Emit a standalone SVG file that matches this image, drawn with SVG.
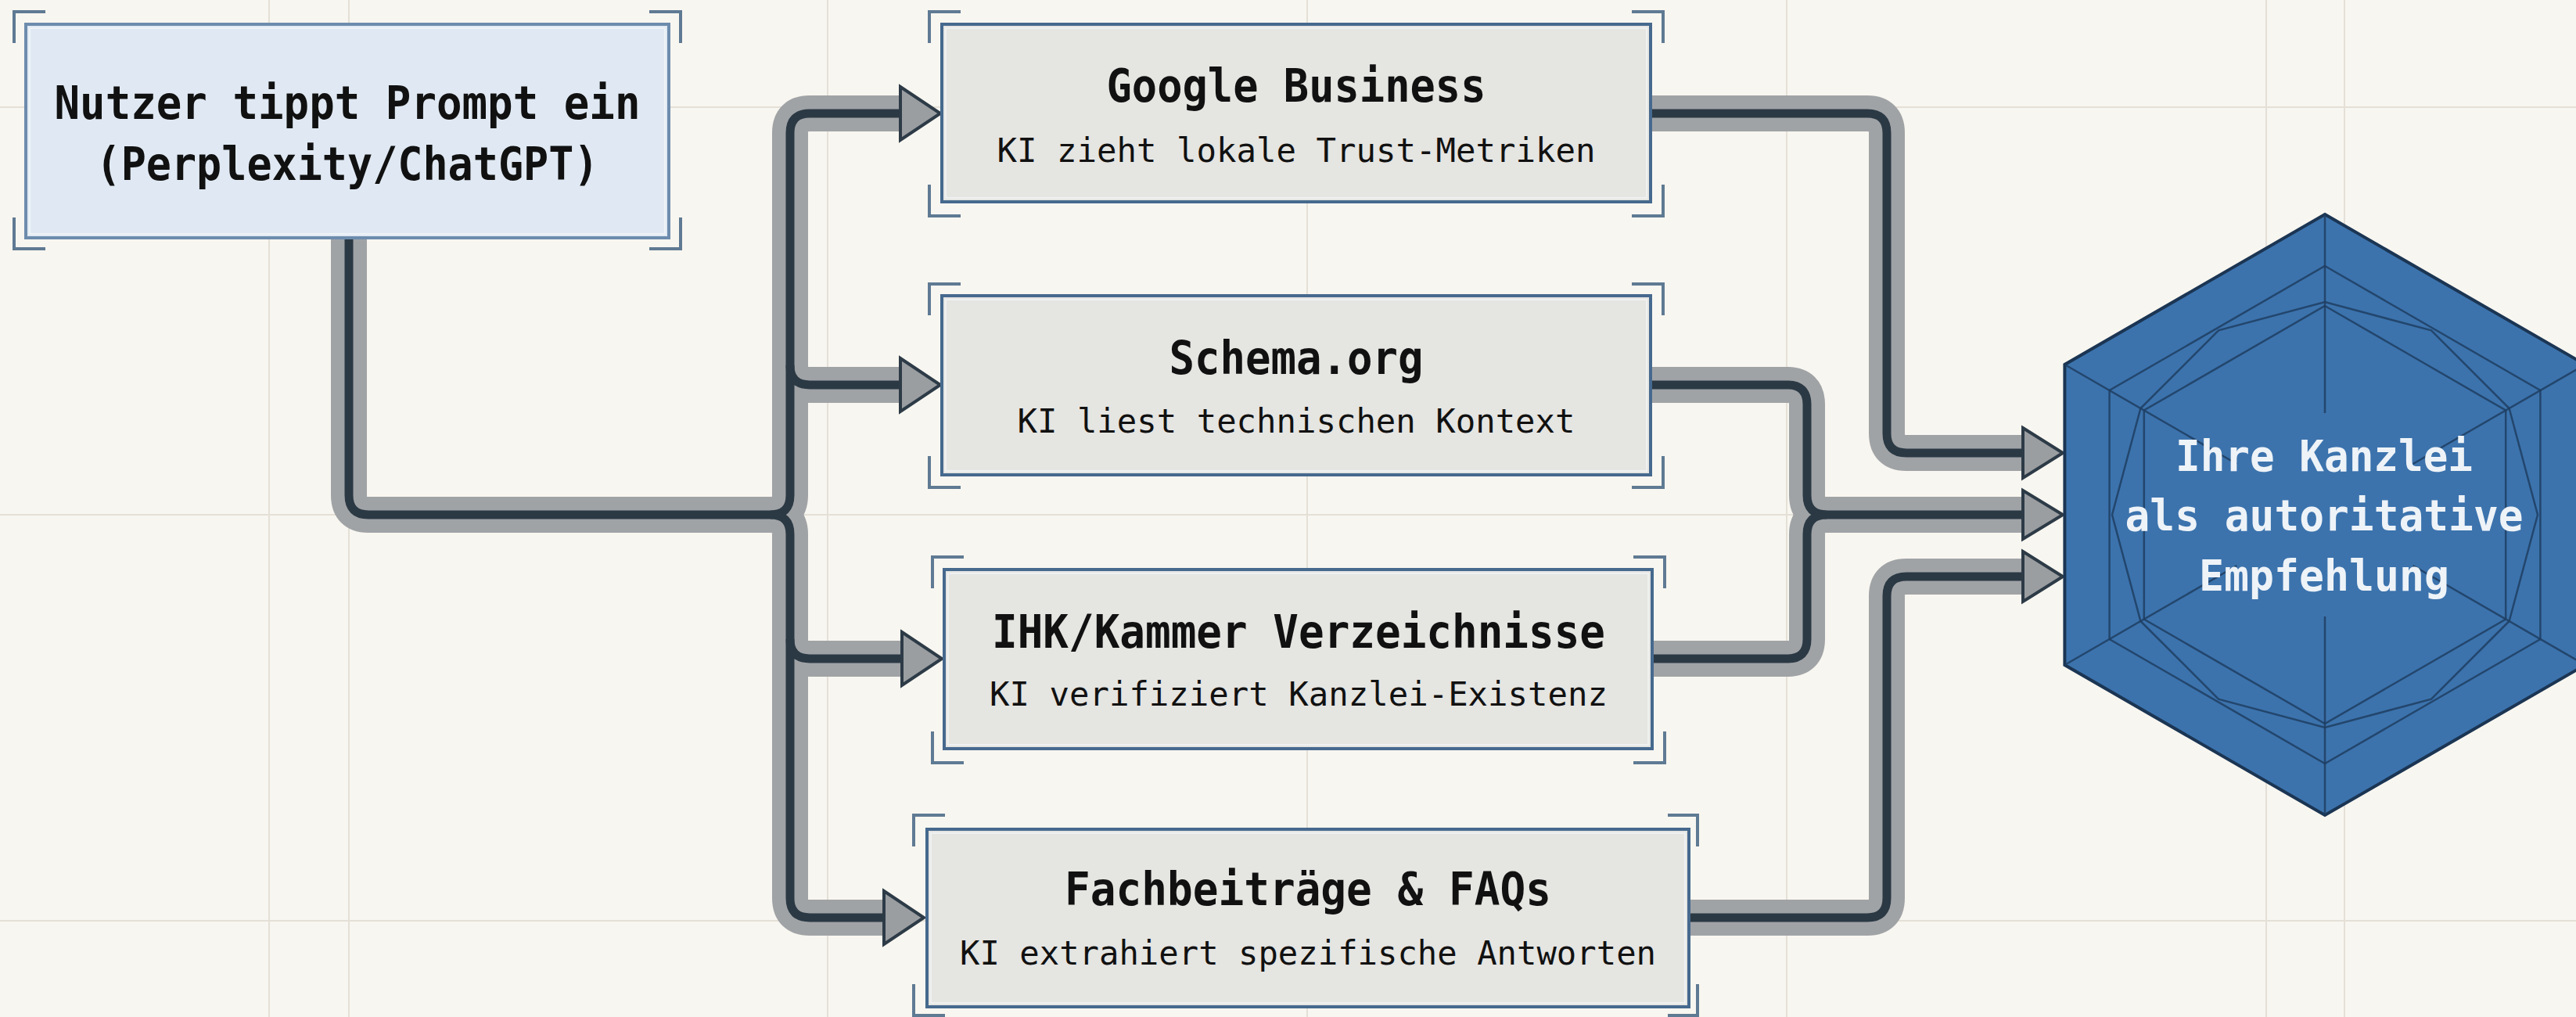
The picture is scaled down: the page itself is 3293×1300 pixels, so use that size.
<svg xmlns="http://www.w3.org/2000/svg" width="3293" height="1300" viewBox="0 0 3293 1300">
<style>
.grid{stroke:#e4e0d7;stroke-width:2;fill:none}
.box{fill:#e5e5e2;stroke:#46698e;stroke-width:4}
.box1{fill:#e0e9f3;stroke:#6d8cad;stroke-width:4}
.inner{fill:none;stroke:#f4f6f8;stroke-width:2;opacity:0.7}
.br{fill:none;stroke:#5f7a93;stroke-width:4}
.band{fill:none;stroke:#a0a3a6;stroke-width:46;stroke-linejoin:round}
.core{fill:none;stroke:#2b3944;stroke-width:11;stroke-linejoin:round}
.arr{fill:#9b9ea1;stroke:#2d3b47;stroke-width:4;stroke-linejoin:miter}
.t{font-family:"DejaVu Sans Mono","Liberation Mono",monospace;font-weight:bold;font-size:58px;fill:#111;text-anchor:middle}
.s{font-family:"DejaVu Sans Mono","Liberation Mono",monospace;font-size:42px;fill:#111;text-anchor:middle}
.h{font-family:"DejaVu Sans Mono","Liberation Mono",monospace;font-weight:bold;font-size:56px;fill:#eef3f8;text-anchor:middle}
.hl{fill:none;stroke:#1f3e62;stroke-width:2.5;opacity:0.85}
</style>
<rect x="0" y="0" width="3293" height="1300" fill="#f8f6f0"/>
<g id="grid">
<line class="grid" x1="344" y1="0" x2="344" y2="1300"/>
<line class="grid" x1="446" y1="0" x2="446" y2="1300"/>
<line class="grid" x1="1058" y1="0" x2="1058" y2="1300"/>
<line class="grid" x1="1671" y1="0" x2="1671" y2="1300"/>
<line class="grid" x1="2284" y1="0" x2="2284" y2="1300"/>
<line class="grid" x1="2897" y1="0" x2="2897" y2="1300"/>
<line class="grid" x1="2997" y1="0" x2="2997" y2="1300"/>
<line class="grid" x1="0" y1="137" x2="3293" y2="137"/>
<line class="grid" x1="0" y1="658" x2="3293" y2="658"/>
<line class="grid" x1="0" y1="1177" x2="3293" y2="1177"/>
</g>
<g id="connectors">
<g>
<path class="band" d="M446,304 V633 Q446,658 471,658 H985 Q1010,658 1010,633 V170 Q1010,145 1035,145 H1155"/>
<path class="band" d="M985,658 Q1010,658 1010,683 V1148 Q1010,1173 1035,1173 H1132"/>
<path class="band" d="M1010,467 Q1010,492 1035,492 H1155"/>
<path class="band" d="M1010,817 Q1010,842 1035,842 H1155"/>
<path class="band" d="M2110,145 H2387 Q2412,145 2412,170 V554 Q2412,579 2437,579 H2588"/>
<path class="band" d="M2110,492 H2285 Q2310,492 2310,517 V633 Q2310,658 2335,658 H2588"/>
<path class="band" d="M2110,842 H2285 Q2310,842 2310,817 V683 Q2310,658 2335,658"/>
<path class="band" d="M2159,1173 H2387 Q2412,1173 2412,1148 V762 Q2412,737 2437,737 H2588"/>
</g>
<g>
<path class="core" d="M446,304 V633 Q446,658 471,658 H985 Q1010,658 1010,633 V170 Q1010,145 1035,145 H1155"/>
<path class="core" d="M985,658 Q1010,658 1010,683 V1148 Q1010,1173 1035,1173 H1132"/>
<path class="core" d="M1010,467 Q1010,492 1035,492 H1155"/>
<path class="core" d="M1010,817 Q1010,842 1035,842 H1155"/>
<path class="core" d="M2110,145 H2387 Q2412,145 2412,170 V554 Q2412,579 2437,579 H2588"/>
<path class="core" d="M2110,492 H2285 Q2310,492 2310,517 V633 Q2310,658 2335,658 H2588"/>
<path class="core" d="M2110,842 H2285 Q2310,842 2310,817 V683 Q2310,658 2335,658"/>
<path class="core" d="M2159,1173 H2387 Q2412,1173 2412,1148 V762 Q2412,737 2437,737 H2588"/>
</g>
<polygon class="arr" points="1151,111 1202,145 1151,179"/>
<polygon class="arr" points="1151,458 1202,492 1151,526"/>
<polygon class="arr" points="1153,808 1204,842 1153,876"/>
<polygon class="arr" points="1130,1139 1181,1173 1130,1207"/>
<polygon class="arr" points="2586,547 2637,579 2586,611"/>
<polygon class="arr" points="2586,627 2637,658 2586,689"/>
<polygon class="arr" points="2586,705 2637,737 2586,769"/>
</g>
<g id="node-prompt">
<rect class="box1" x="33" y="31" width="822" height="273"/>
<rect class="inner" x="38" y="36" width="812" height="263"/>
<path class="br" d="M18,55 V15 H58 M830,15 H870 V55 M870,278 V318 H830 M58,318 H18 V278"/>
<text class="t" x="444" y="152" font-size="60" textLength="749" lengthAdjust="spacingAndGlyphs">Nutzer tippt Prompt ein</text>
<text class="t" x="444" y="230" font-size="60" textLength="643" lengthAdjust="spacingAndGlyphs">(Perplexity/ChatGPT)</text>
</g>
<g id="node-google">
<rect class="box" x="1204" y="31" width="906" height="227"/>
<rect class="inner" x="1209" y="36" width="896" height="217"/>
<path class="br" d="M1188,55 V15 H1228 M2086,15 H2126 V55 M2126,236 V276 H2086 M1228,276 H1188 V236"/>
<text class="t" x="1657" y="130" textLength="485" lengthAdjust="spacingAndGlyphs">Google Business</text>
<text class="s" x="1657" y="207" textLength="765" lengthAdjust="spacingAndGlyphs">KI zieht lokale Trust-Metriken</text>
</g>
<g id="node-schema">
<rect class="box" x="1204" y="378" width="906" height="229"/>
<rect class="inner" x="1209" y="383" width="896" height="219"/>
<path class="br" d="M1188,403 V363 H1228 M2086,363 H2126 V403 M2126,583 V623 H2086 M1228,623 H1188 V583"/>
<text class="t" x="1657" y="478" textLength="325" lengthAdjust="spacingAndGlyphs">Schema.org</text>
<text class="s" x="1657" y="553" textLength="713" lengthAdjust="spacingAndGlyphs">KI liest technischen Kontext</text>
</g>
<g id="node-ihk">
<rect class="box" x="1207" y="728" width="905" height="229"/>
<rect class="inner" x="1212" y="733" width="895" height="219"/>
<path class="br" d="M1192,752 V712 H1232 M2088,712 H2128 V752 M2128,935 V975 H2088 M1232,975 H1192 V935"/>
<text class="t" x="1660" y="828" textLength="784" lengthAdjust="spacingAndGlyphs">IHK/Kammer Verzeichnisse</text>
<text class="s" x="1660" y="902" textLength="790" lengthAdjust="spacingAndGlyphs">KI verifiziert Kanzlei-Existenz</text>
</g>
<g id="node-fach">
<rect class="box" x="1185" y="1060" width="974" height="227"/>
<rect class="inner" x="1190" y="1065" width="964" height="217"/>
<path class="br" d="M1168,1082 V1042 H1208 M2132,1042 H2170 V1082 M2170,1258 V1298 H2132 M1208,1298 H1168 V1258"/>
<text class="t" x="1672" y="1157" textLength="622" lengthAdjust="spacingAndGlyphs">Fachbeiträge &amp; FAQs</text>
<text class="s" x="1672" y="1233" textLength="890" lengthAdjust="spacingAndGlyphs">KI extrahiert spezifische Antworten</text>
</g>
<g id="node-kanzlei">
<polygon points="2972,274 3304.6,466 3304.6,850 2972,1042 2639.4,850 2639.4,466" fill="#3c73ad" stroke="#1b3553" stroke-width="4"/>
<polygon class="hl" points="2972,340 3247.4,499 3247.4,817 2972,976 2696.6,817 2696.6,499"/>
<polygon class="hl" points="2972,391 3203.2,524.5 3203.2,791.5 2972,925 2740.8,791.5 2740.8,524.5"/>
<polygon class="hl" points="3244,658 3207.6,794 3108,893.6 2972,930 2836,893.6 2736.4,794 2700,658 2736.4,522 2836,422.4 2972,386 3108,422.4 3207.6,522"/>
<path class="hl" d="M2972,274 L2972,528 M3304.6,466 L3084.6,593 M3304.6,850 L3084.6,723 M2972,1042 L2972,788 M2639.4,850 L2859.4,723 M2639.4,466 L2859.4,593"/>
<text class="h" x="2971" y="602" textLength="380" lengthAdjust="spacingAndGlyphs">Ihre Kanzlei</text>
<text class="h" x="2971" y="678" textLength="509" lengthAdjust="spacingAndGlyphs">als autoritative</text>
<text class="h" x="2971" y="755" textLength="320" lengthAdjust="spacingAndGlyphs">Empfehlung</text>
</g>
</svg>
